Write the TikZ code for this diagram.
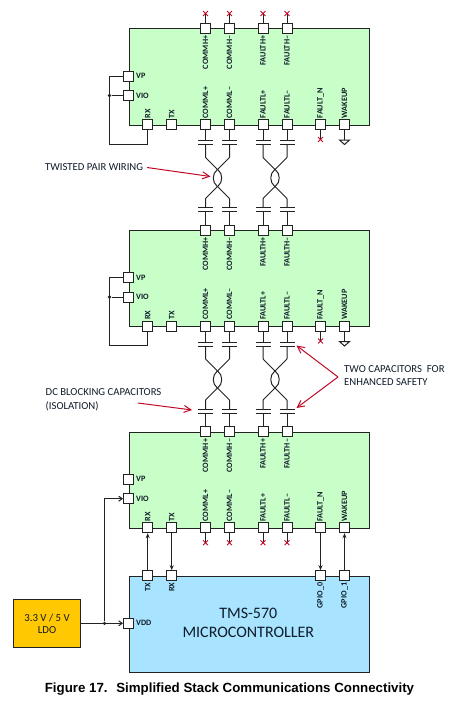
\documentclass[tikz,border=0pt]{standalone}
\usepackage{fontspec}
\setmainfont{Carlito}
\newfontfamily\capfont{Liberation Sans}
\usetikzlibrary{arrows.meta,calc,shapes.misc}
\definecolor{lineK}{HTML}{222222}
\definecolor{redK}{HTML}{C00A28}
\definecolor{greenK}{HTML}{C8FFC8}
\definecolor{blueK}{HTML}{A8E4FF}
\definecolor{ldoK}{HTML}{FFC800}
\definecolor{txtK}{HTML}{101C2A}
\tikzset{
  x=1pt,y=-1pt,
  wire/.style={draw=lineK,line width=1pt},
  chip/.style={draw=lineK,line width=1pt,minimum width=240pt,minimum height=96pt,inner sep=0pt,anchor=north west},
  pinbox/.style={draw=lineK,fill=white,line width=1pt,minimum size=10pt,inner sep=0pt},
  vlabel/.style={font=\fontsize{8.2}{8}\selectfont\bfseries,text=txtK,rotate=90,inner sep=0pt},
  hlabel/.style={font=\fontsize{8.2}{8}\selectfont\bfseries,text=txtK,anchor=west,inner sep=0pt},
  note/.style={font=\fontsize{10.7}{10.7}\selectfont,text=txtK,anchor=west,inner sep=0pt},
  redarrow/.style={draw=redK,line width=1pt,-{Straight Barb[length=7pt,width=7pt]}},
  sig/.style={wire,-{Stealth[length=5pt,width=4pt]}},
  feed/.style={wire,-{Straight Barb[length=3.5pt,width=5pt]}},
  dot/.style={circle,fill=lineK,minimum size=3.6pt,inner sep=0pt},
  nc/.style={cross out,draw=redK,line width=0.9pt,minimum size=4pt,inner sep=0pt},
  plate/.style={draw=lineK,line width=1pt},
}
% a stack device: #1 name, #2 top y
\newcommand\stackdev[2]{%
  \pgfmathsetmacro\T{#2}\pgfmathsetmacro\B{#2+96}%
  \pgfmathsetmacro\VPy{#2+47.5}\pgfmathsetmacro\VIy{#2+67}%
  \node[chip,fill=greenK] (#1) at (128.5,\T) {};
  \node[pinbox] (#1vp) at (128.5,\VPy) {};
  \node[pinbox] (#1vio) at (128.5,\VIy) {};
  \node[hlabel] at (136,\VPy) {VP};
  \node[hlabel] at (136,\VIy) {VIO};
  \foreach \n/\x/\l in {rx/147.7/RX,tx/171.7/TX,cl1/205.5/COMML+,cl2/229.5/COMML–,fl1/263/FAULTL+,fl2/287/FAULTL–,fn/320.5/FAULT\_N,wk/344.5/WAKEUP}{
    \node[pinbox] (#1\n) at (\x,\B) {};
    \node[vlabel,anchor=west] at (\x,\B-6) {\l};
  }
  \foreach \n/\x/\l in {ch1/205.5/COMMH+,ch2/229.5/COMMH–,fh1/263/FAULTH+,fh2/287/FAULTH–}{
    \node[pinbox] (#1\n) at (\x,\T) {};
    \node[vlabel,anchor=east] at (\x,\T+7) {\l};
  }
}
% a twisted pair with four blocking capacitors: upper pins #1 #2, lower pins #3 #4, #5 = y of upper chip bottom
\newcommand\twistpair[5]{%
  \pgfmathsetmacro\ca{#5+16}\pgfmathsetmacro\cb{#5+20}%
  \pgfmathsetmacro\da{#5+33}\pgfmathsetmacro\xa{#5+45}\pgfmathsetmacro\mid{#5+53.5}%
  \pgfmathsetmacro\xb{#5+62}\pgfmathsetmacro\db{#5+74}%
  \pgfmathsetmacro\cc{#5+83}\pgfmathsetmacro\cd{#5+87}%
  \coordinate (mU) at ($(#1)!0.5!(#2)$);
  \foreach \p/\q/\s in {#1/#3/1,#2/#4/-1}{
    \draw[plate] ($(\p |- 0,\ca)+(-7.5,0)$) -- ($(\p |- 0,\ca)+(7.5,0)$);
    \draw[plate] ($(\p |- 0,\cb)+(-7.5,0)$) -- ($(\p |- 0,\cb)+(7.5,0)$);
    \draw[plate] ($(\q |- 0,\cc)+(-7.5,0)$) -- ($(\q |- 0,\cc)+(7.5,0)$);
    \draw[plate] ($(\q |- 0,\cd)+(-7.5,0)$) -- ($(\q |- 0,\cd)+(7.5,0)$);
    \draw[wire] (\p.south) -- (\p |- 0,\ca);
    \draw[wire] (\q.north) -- (\q |- 0,\cd);
    \draw[wire,rounded corners=0.5pt] (\p |- 0,\cb) -- (\p |- 0,\da) -- (mU |- 0,\xa)
      .. controls ($(mU |- 0,\xa)+(\s*5.5,4)$) and ($(mU |- 0,\xb)+(\s*5.5,-4)$) .. (mU |- 0,\xb)
      -- (\q |- 0,\db) -- (\q |- 0,\cc);
  }
}
\begin{document}
\begin{tikzpicture}
\useasboundingbox (0,0) rectangle (458,701);
% devices
\stackdev{a}{28.5}
\stackdev{b}{230}
\stackdev{c}{431.7}
% microcontroller and regulator
\node[chip,fill=blueK] (mcu) at (128.5,575.7) {};
\node[align=center,font=\fontsize{16}{18.5}\selectfont,text=txtK,inner sep=0pt] (mcutext) at (248.3,623) {TMS-570\\MICROCONTROLLER};
\foreach \n/\x/\l in {txo/147.7/TX,rxi/171.7/RX,g0/320.5/GPIO\_0,g1/344.5/GPIO\_1}{
  \node[pinbox] (\n) at (\x,575.7) {};
  \node[vlabel,anchor=east] at (\x,582.5) {\l};
}
\node[pinbox] (vdd) at (128.5,623.3) {};
\node[hlabel] at (136,623.3) {VDD};
\node[draw=lineK,line width=1pt,fill=ldoK,minimum width=67pt,minimum height=48pt,inner sep=0pt,align=center,font=\fontsize{10.8}{12.8}\selectfont,text=txtK] (ldo) at (47,623.7) {3.3 V / 5 V\\LDO};
% twisted pairs
\twistpair{acl1}{acl2}{bch1}{bch2}{124.5}
\twistpair{afl1}{afl2}{bfh1}{bfh2}{124.5}
\twistpair{bcl1}{bcl2}{cch1}{cch2}{326}
\twistpair{bfl1}{bfl2}{cfh1}{cfh2}{326}
% no-connect marks
\foreach \p in {ach1,ach2,afh1,afh2}{
  \draw[wire] (\p.north) -- ++(0,-9.5) node[nc] (x\p) {};
}
\foreach \p in {ccl1,ccl2,cfl1,cfl2,afn,bfn}{
  \draw[wire] (\p.south) -- ++(0,9.5) node[nc] (x\p) {};
}
% wakeup grounds
\foreach \p in {awk,bwk}{
  \coordinate (g\p) at ($(\p)+(0,15.5)$);
  \draw[wire] (\p.south) -- (g\p);
  \draw[wire,fill=white,line join=miter] ($(g\p)+(-5,0)$) -- ($(g\p)+(5,0)$) -- ($(g\p)+(0,4.5)$) -- cycle;
}
% local supply loops
\foreach \d in {a,b}{
  \coordinate (\d corner) at ($(\d rx)+(0,19.5)$);
  \coordinate (\d rail) at (109.5,0);
  \draw[wire] (\d rx.south) -- (\d corner) -- (\d rail |- \d corner) -- (\d rail |- \d vp) -- (\d vp.west);
  \node[dot] (\d dot) at (\d rail |- \d vio) {};
  \draw[wire] (\d dot) -- (\d vio.west);
}
% controller links
\draw[sig] (txo.north) -- (crx.south);
\draw[sig] (ctx.south) -- (rxi.north);
\draw[sig] (cfn.south) -- (g0.north);
\draw[sig] (g1.north) -- (cwk.south);
% supply
\node[dot] (sup) at (104.5,623.3) {};
\draw[feed] (ldo.east |- vdd) -- (vdd.west);
\draw[feed] (sup) -- (sup |- cvio) -- (cvio.west);
% annotations
\node[note] (n1) at (45,167) {TWISTED PAIR WIRING};
\coordinate (n1t) at (210.5,176.5);
\draw[redarrow] (147,167.5) -- (n1t);
\node[note,align=left,font=\fontsize{10.7}{13.5}\selectfont] (n2) at (45.5,400) {DC BLOCKING CAPACITORS\\(ISOLATION)};
\coordinate (n2t) at (192,410);
\draw[redarrow] (138,403) -- (n2t);
\node[note,align=left,font=\fontsize{10.7}{13}\selectfont] (n3) at (344,376) {TWO CAPACITORS~ FOR\\ENHANCED SAFETY};
\coordinate (n3h) at (338,377);
\draw[redarrow] (n3h) -- (296.5,345.5);
\draw[redarrow] (n3h) -- (296.5,408);
% caption
\node[font=\capfont\bfseries\fontsize{13.3}{13}\selectfont,text=black,inner sep=0pt] (cap) at (229.5,689) {Figure 17.~ Simplified Stack Communications Connectivity};
\end{tikzpicture}
\end{document}
